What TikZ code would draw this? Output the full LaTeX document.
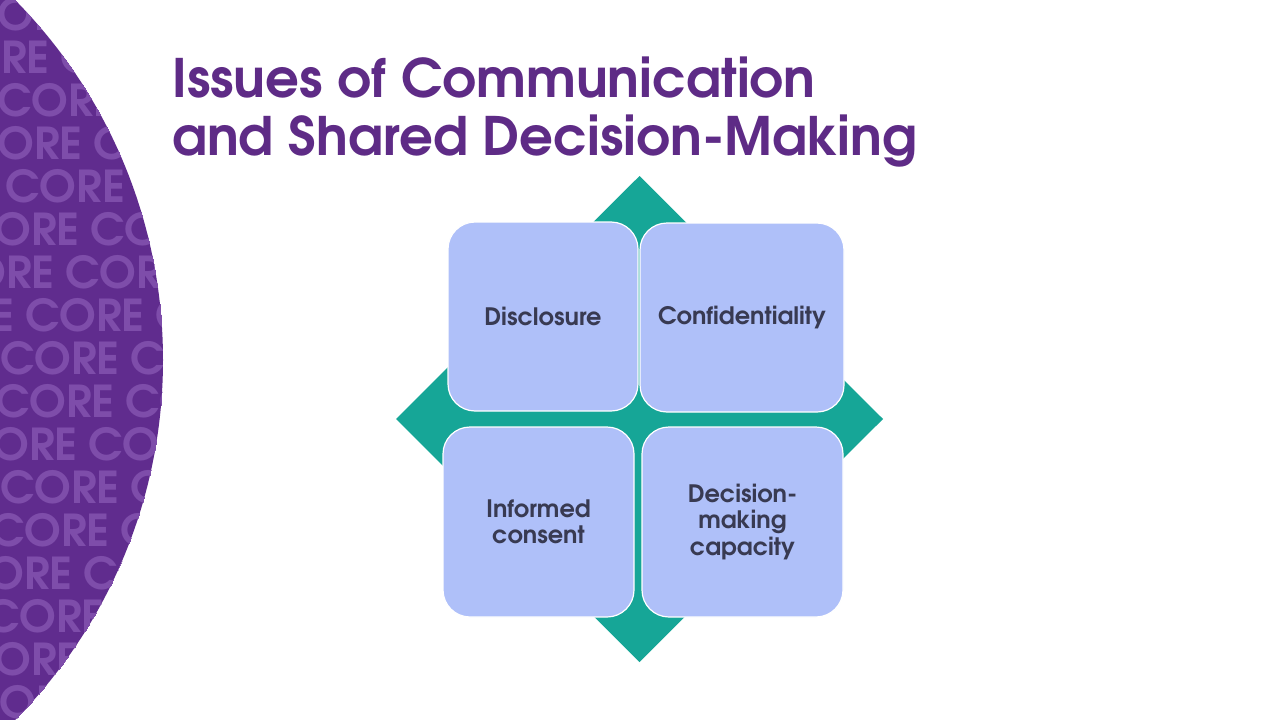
\documentclass[tikz,border=0pt]{standalone}
\usepackage{fontspec}
\newfontfamily\advb{texgyreadventor-bold.otf}
\definecolor{circpurp}{HTML}{602C8E}
\definecolor{corelite}{HTML}{7E4DAA}
\definecolor{titlepurp}{HTML}{5E2B86}
\definecolor{diamteal}{HTML}{16A697}
\definecolor{boxfill}{HTML}{AFC0F9}
\definecolor{boxtext}{HTML}{383A52}
\newcommand{\cw}{\makebox[130pt][l]{CORE}}
\begin{document}
\begin{tikzpicture}[x=1pt,y=-1pt,
  box/.style={draw=white, line width=1.2pt, fill=boxfill, rounded corners=27pt, inner sep=0pt, align=center, text=boxtext, font=\advb\fontsize{24}{26.5}\selectfont},
  coreword/.style={anchor=base west, inner sep=0pt, text=corelite, font=\advb\fontsize{44}{44}\selectfont},
  titletext/.style={anchor=base west, inner sep=0pt, text=titlepurp, font=\advb\fontsize{53}{60}\selectfont}]
\useasboundingbox[fill=white] (0,0) rectangle (1280,720);
\fill[circpurp] (-349,360) circle[radius=512];
\begin{scope}
\clip (-349,360) circle[radius=512];
\node[coreword] (core1)  at (-37,30)  {COR};
\node[coreword] (core2)  at (-70,73)  {\cw C};
\node[coreword] (core3)  at (-3,116)  {CORE};
\node[coreword] (core4)  at (-37,159) {\cw C};
\node[coreword] (core5)  at (5,202)   {\cw C};
\node[coreword] (core6)  at (-40,245) {\cw CO};
\node[coreword] (core7)  at (-65,288) {\cw COR};
\node[coreword] (core8)  at (-105,331) {\cw\cw C};
\node[coreword] (core9)  at (0,374)   {\cw C};
\node[coreword] (core10) at (-5,417)  {\cw CO};
\node[coreword] (core11) at (-42,460) {\cw CO};
\node[coreword] (core12) at (0,503)   {\cw C};
\node[coreword] (core13) at (-10,546) {\cw C};
\node[coreword] (core14) at (-47,589) {\cw CO};
\node[coreword] (core15) at (-15,632) {CORE};
\node[coreword] (core16) at (-40,675) {CORE};
\node[coreword] (core17) at (-35,718) {COR};
\end{scope}
\node[titletext] (title1) at (172,97) {Issues of Communication};
\node[titletext] (title2) at (172,155) {and Shared Decision-Making};
\fill[diamteal] (639.5,176) -- (883,419) -- (639.5,662) -- (396,419) -- cycle;
\node[box, minimum width=190pt, minimum height=189pt] (disc) at (543,316.5) {Disclosure};
\node[box, minimum width=204pt, minimum height=189pt] (conf) at (742,317.5) {Confidentiality};
\node[box, minimum width=191pt, minimum height=190pt] (info) at (538.5,522) {Informed\\consent};
\node[box, minimum width=201pt, minimum height=190pt] (deci) at (742.5,522) {Decision-\\making\\capacity};
\end{tikzpicture}
\end{document}
